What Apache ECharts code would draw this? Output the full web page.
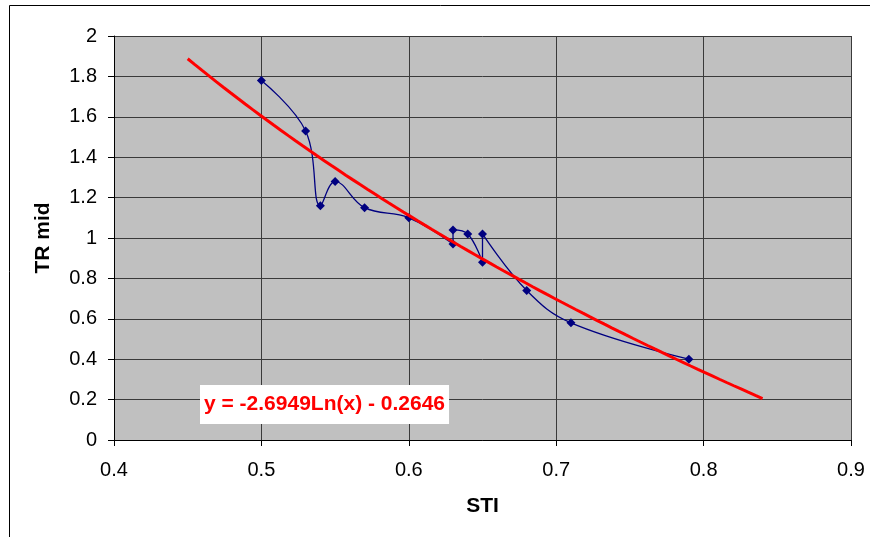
<!DOCTYPE html>
<html>
<head>
<meta charset="utf-8">
<style>
  html, body { margin: 0; padding: 0; background: #ffffff; }
  #chart { width: 870px; height: 537px; }
</style>
<script src="https://cdn.jsdelivr.net/npm/echarts@6/dist/echarts.min.js"></script>
</head>
<body>
<div id="chart"></div>
<script>
// STI vs TR mid observations, in plotting order
const sti   = [0.50, 0.53, 0.54, 0.55, 0.57, 0.60, 0.63, 0.63, 0.64, 0.65, 0.65, 0.68, 0.71, 0.79];
const trMid = [1.78, 1.53, 1.16, 1.28, 1.15, 1.10, 0.97, 1.04, 1.02, 0.88, 1.02, 0.74, 0.58, 0.40];

// Logarithmic trend line: y = a*ln(x) + b
const trendA = -2.6949;
const trendB = -0.2646;
const trendRange = [0.45, 0.84];
const trendLabel = 'y = -2.6949Ln(x) - 0.2646';

const xTicks = { min: 0.4, max: 0.9, interval: 0.1 };
const yTicks = { min: 0, max: 2, interval: 0.2 };

const observed = sti.map((x, i) => [x, trMid[i]]);

const trendPoints = [];
const steps = 80;
for (let i = 0; i <= steps; i++) {
  const x = trendRange[0] + (trendRange[1] - trendRange[0]) * i / steps;
  trendPoints.push([x, trendA * Math.log(x) + trendB]);
}

const FONT = 'Liberation Sans, Arial, sans-serif';
const chart = echarts.init(document.getElementById('chart'), null, { renderer: 'canvas' });

chart.setOption({
  animation: false,
  backgroundColor: '#ffffff',
  grid: {
    left: 114, top: 36, right: 19, bottom: 97,
    show: true, backgroundColor: '#C0C0C0', borderWidth: 0
  },
  xAxis: {
    type: 'value',
    min: xTicks.min, max: xTicks.max, interval: xTicks.interval,
    name: 'STI', nameLocation: 'middle', nameGap: 56,
    nameTextStyle: { fontFamily: FONT, fontSize: 21, fontWeight: 'bold', color: '#000' },
    axisLine: { show: true, onZero: false, lineStyle: { color: '#000', width: 1 } },
    axisTick: { show: true, length: 6, lineStyle: { color: '#000' } },
    axisLabel: {
      fontFamily: FONT, fontSize: 20, color: '#000', margin: 20,
      formatter: v => String(+v.toFixed(1))
    },
    splitLine: { show: true, lineStyle: { color: '#3a3a3a', width: 1 } }
  },
  yAxis: {
    type: 'value',
    min: yTicks.min, max: yTicks.max, interval: yTicks.interval,
    name: 'TR mid', nameLocation: 'middle', nameGap: 60,
    nameTextStyle: { fontFamily: FONT, fontSize: 21, fontWeight: 'bold', color: '#000' },
    axisLine: { show: true, lineStyle: { color: '#000', width: 1 } },
    axisTick: { show: true, length: 6, lineStyle: { color: '#000' } },
    axisLabel: {
      fontFamily: FONT, fontSize: 20, color: '#000', margin: 17,
      formatter: v => String(+v.toFixed(1))
    },
    splitLine: { show: true, lineStyle: { color: '#3a3a3a', width: 1 } }
  },
  graphic: [
    {
      type: 'rect', z: 100, silent: true,
      shape: { x: 9.5, y: 5.5, width: 880, height: 560 },
      style: { fill: 'none', stroke: '#000', lineWidth: 1 }
    },
    {
      type: 'text', z: 100, left: 200, top: 385,
      style: {
        text: trendLabel, fontFamily: FONT, fontSize: 21, fontWeight: 'bold',
        fill: '#FF0000', backgroundColor: '#ffffff',
        padding: [9, 4, 9, 4]
      }
    }
  ],
  series: [
    {
      type: 'line',
      data: observed,
      smooth: 0.4,
      symbol: 'diamond', symbolSize: 9,
      lineStyle: { color: '#000080', width: 1.3 },
      itemStyle: { color: '#000080' },
      z: 3
    },
    {
      type: 'line',
      data: trendPoints,
      symbol: 'none',
      lineStyle: { color: '#FF0000', width: 3 },
      z: 4
    }
  ]
});
</script>
</body>
</html>
